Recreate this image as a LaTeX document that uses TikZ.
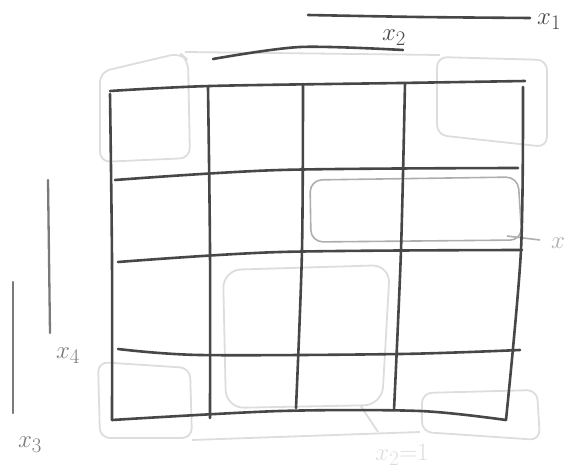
\documentclass[tikz,border=0pt]{standalone}
\usepackage{tikz}
\usetikzlibrary{calc}
\definecolor{pencil}{HTML}{474747}
\definecolor{softpencil}{HTML}{7A7A7A}
\definecolor{erased}{HTML}{DDDDDD}
\definecolor{halferased}{HTML}{AEAEAE}
\tikzset{
  gridline/.style={draw=pencil, line width=2.6pt, line cap=round, line join=round},
  barline/.style={draw=pencil, line width=2.6pt, line cap=round},
  sidebar/.style={draw=softpencil, line width=2.3pt, line cap=round},
  erasedloop/.style={draw=erased, line width=1.8pt, rounded corners=10pt},
  grayloop/.style={draw=halferased, line width=1.6pt, rounded corners=12pt},
  varlabel/.style={font=\fontsize{28}{30}\selectfont, text=pencil, inner sep=1pt},
  softlabel/.style={varlabel, text=softpencil},
  erasedlabel/.style={varlabel, text=erased}
}

\begin{document}
\begin{tikzpicture}[x=1pt,y=-1pt]
\useasboundingbox (0,0) rectangle (568,476);
% erased loops
\draw[erasedloop] (190,158) -- (100,162) -- (100,72) -- (180,53) -- (188,60) -- cycle;
\draw[erasedloop] (185,52) -- (440,55);
\draw[erasedloop] (437,57) -- (547,60) -- (547,147) -- (437,135) -- cycle;
\draw[erasedloop] (98,362) -- (190,368) -- (192,438) -- (100,438) -- cycle;
\draw[erasedloop] (192,440) -- (420,432);
\draw[erasedloop] (422,393) -- (537,390) -- (540,440) -- (422,432) -- cycle;
\draw[erasedloop, rounded corners=18pt] (223,270) -- (390,265) -- (382,405) -- (226,408) -- cycle;
\draw[erasedloop] (360,405) -- (378,432);
\node[erasedlabel] (xtwoone) at (402,455) {$x_2{=}1$};
% half erased loop
\draw[grayloop] (310,180) -- (518,177) -- (522,240) -- (311,242) -- cycle;
\draw[grayloop] (507,236) -- (540,240);
\node[varlabel, text=halferased, anchor=west] (xrow) at (550,243) {$x$};
% grid
\draw[gridline] plot[smooth] coordinates {(110,91) (210,86) (400,83) (525,81)};
\draw[gridline] plot[smooth] coordinates {(115,180) (280,170) (518,168)};
\draw[gridline] plot[smooth] coordinates {(118,262) (280,252) (522,250)};
\draw[gridline] plot[smooth] coordinates {(118,349) (200,355) (400,354) (520,350)};
\draw[gridline] plot[smooth] coordinates {(112,420) (280,411) (420,411) (506,420)};
\draw[gridline] plot[smooth] coordinates {(110,94) (112,260) (112,420)};
\draw[gridline] plot[smooth] coordinates {(208,87) (210,250) (210,418)};
\draw[gridline] plot[smooth] coordinates {(303,84) (302,250) (296,408)};
\draw[gridline] plot[smooth] coordinates {(405,83) (401,250) (394,410)};
\draw[gridline] plot[smooth] coordinates {(523,87) (521,250) (506,420)};
% variable bars
\draw[barline] plot[smooth] coordinates {(308,15) (420,17) (530,18)};
\node[varlabel, anchor=west] (xone) at (536,22) {$x_1$};
\draw[barline] plot[smooth] coordinates {(213,59) (300,47) (403,50)};
\node[varlabel] (xtwo) at (394,38) {$x_2$};
\draw[sidebar] (48,180) -- (50,333);
\node[softlabel] (xfour) at (68,356) {$x_4$};
\draw[sidebar] (13,282) -- (13,413);
\node[softlabel] (xthree) at (30,445) {$x_3$};
\end{tikzpicture}
\end{document}
